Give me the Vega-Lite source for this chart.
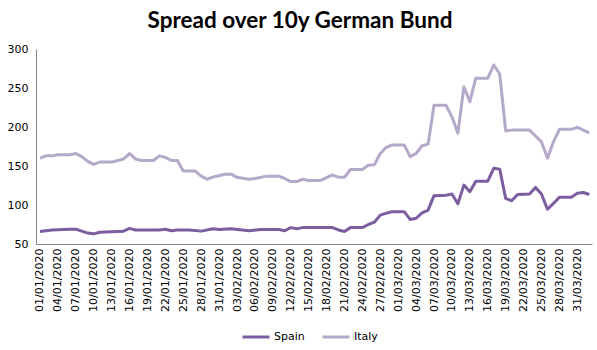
{
  "$schema": "https://vega.github.io/schema/vega-lite/v6.json",
  "width": 556,
  "height": 195,
  "autosize": {"type": "none"},
  "padding": {"left": 36, "top": 49, "right": 5, "bottom": 106},
  "background": "white",
  "title": {
    "text": "Spread over 10y German Bund",
    "font": "Lato",
    "fontWeight": "bold",
    "fontSize": 22.5,
    "color": "#000000",
    "anchor": "middle",
    "frame": "group",
    "dx": -14,
    "dy": 21,
    "baseline": "alphabetic",
    "offset": 14
  },
  "config": {
    "view": {"stroke": null},
    "axis": {
      "labelFont": "DejaVu Sans",
      "labelFontSize": 11,
      "labelColor": "#000000",
      "domainColor": "#868686",
      "domainWidth": 1,
      "ticks": false,
      "grid": false,
      "title": null
    },
    "legend": {
      "labelFont": "DejaVu Sans",
      "labelFontSize": 11,
      "labelColor": "#000000"
    }
  },
  "data": {
    "values": [
      {"date": "2020-01-01", "country": "Italy", "value": 160},
      {"date": "2020-01-02", "country": "Italy", "value": 163},
      {"date": "2020-01-03", "country": "Italy", "value": 163},
      {"date": "2020-01-04", "country": "Italy", "value": 164.5},
      {"date": "2020-01-06", "country": "Italy", "value": 164.5},
      {"date": "2020-01-07", "country": "Italy", "value": 166},
      {"date": "2020-01-08", "country": "Italy", "value": 162},
      {"date": "2020-01-09", "country": "Italy", "value": 156},
      {"date": "2020-01-10", "country": "Italy", "value": 152},
      {"date": "2020-01-11", "country": "Italy", "value": 155},
      {"date": "2020-01-13", "country": "Italy", "value": 155},
      {"date": "2020-01-15", "country": "Italy", "value": 159},
      {"date": "2020-01-16", "country": "Italy", "value": 166},
      {"date": "2020-01-17", "country": "Italy", "value": 159},
      {"date": "2020-01-18", "country": "Italy", "value": 157},
      {"date": "2020-01-20", "country": "Italy", "value": 157},
      {"date": "2020-01-21", "country": "Italy", "value": 163},
      {"date": "2020-01-22", "country": "Italy", "value": 161},
      {"date": "2020-01-23", "country": "Italy", "value": 157},
      {"date": "2020-01-24", "country": "Italy", "value": 157},
      {"date": "2020-01-25", "country": "Italy", "value": 143.5},
      {"date": "2020-01-27", "country": "Italy", "value": 143.5},
      {"date": "2020-01-28", "country": "Italy", "value": 137},
      {"date": "2020-01-29", "country": "Italy", "value": 133},
      {"date": "2020-01-30", "country": "Italy", "value": 136},
      {"date": "2020-02-01", "country": "Italy", "value": 139.5},
      {"date": "2020-02-02", "country": "Italy", "value": 139.5},
      {"date": "2020-02-03", "country": "Italy", "value": 135.5},
      {"date": "2020-02-05", "country": "Italy", "value": 133},
      {"date": "2020-02-06", "country": "Italy", "value": 134},
      {"date": "2020-02-08", "country": "Italy", "value": 137},
      {"date": "2020-02-10", "country": "Italy", "value": 137},
      {"date": "2020-02-11", "country": "Italy", "value": 134},
      {"date": "2020-02-12", "country": "Italy", "value": 130},
      {"date": "2020-02-13", "country": "Italy", "value": 130},
      {"date": "2020-02-14", "country": "Italy", "value": 133},
      {"date": "2020-02-15", "country": "Italy", "value": 131.5},
      {"date": "2020-02-17", "country": "Italy", "value": 131.5},
      {"date": "2020-02-18", "country": "Italy", "value": 135},
      {"date": "2020-02-19", "country": "Italy", "value": 138.5},
      {"date": "2020-02-20", "country": "Italy", "value": 135.5},
      {"date": "2020-02-21", "country": "Italy", "value": 135.5},
      {"date": "2020-02-22", "country": "Italy", "value": 145.5},
      {"date": "2020-02-24", "country": "Italy", "value": 145.5},
      {"date": "2020-02-25", "country": "Italy", "value": 151},
      {"date": "2020-02-26", "country": "Italy", "value": 151.5},
      {"date": "2020-02-27", "country": "Italy", "value": 166},
      {"date": "2020-02-28", "country": "Italy", "value": 174},
      {"date": "2020-02-29", "country": "Italy", "value": 177},
      {"date": "2020-03-02", "country": "Italy", "value": 177},
      {"date": "2020-03-03", "country": "Italy", "value": 162},
      {"date": "2020-03-04", "country": "Italy", "value": 166},
      {"date": "2020-03-05", "country": "Italy", "value": 176},
      {"date": "2020-03-06", "country": "Italy", "value": 178},
      {"date": "2020-03-07", "country": "Italy", "value": 228},
      {"date": "2020-03-09", "country": "Italy", "value": 228},
      {"date": "2020-03-10", "country": "Italy", "value": 213},
      {"date": "2020-03-11", "country": "Italy", "value": 192},
      {"date": "2020-03-12", "country": "Italy", "value": 251.5},
      {"date": "2020-03-13", "country": "Italy", "value": 232.5},
      {"date": "2020-03-14", "country": "Italy", "value": 262.5},
      {"date": "2020-03-16", "country": "Italy", "value": 262.5},
      {"date": "2020-03-17", "country": "Italy", "value": 279.5},
      {"date": "2020-03-18", "country": "Italy", "value": 268},
      {"date": "2020-03-19", "country": "Italy", "value": 195},
      {"date": "2020-03-20", "country": "Italy", "value": 196},
      {"date": "2020-03-23", "country": "Italy", "value": 196},
      {"date": "2020-03-24", "country": "Italy", "value": 188.5},
      {"date": "2020-03-25", "country": "Italy", "value": 181},
      {"date": "2020-03-26", "country": "Italy", "value": 160},
      {"date": "2020-03-27", "country": "Italy", "value": 181},
      {"date": "2020-03-28", "country": "Italy", "value": 197},
      {"date": "2020-03-30", "country": "Italy", "value": 197},
      {"date": "2020-03-31", "country": "Italy", "value": 199.5},
      {"date": "2020-04-01", "country": "Italy", "value": 196},
      {"date": "2020-04-02", "country": "Italy", "value": 192.5},
      {"date": "2020-01-01", "country": "Spain", "value": 66},
      {"date": "2020-01-03", "country": "Spain", "value": 68},
      {"date": "2020-01-06", "country": "Spain", "value": 69},
      {"date": "2020-01-07", "country": "Spain", "value": 69},
      {"date": "2020-01-09", "country": "Spain", "value": 64},
      {"date": "2020-01-10", "country": "Spain", "value": 63},
      {"date": "2020-01-11", "country": "Spain", "value": 65},
      {"date": "2020-01-14", "country": "Spain", "value": 66},
      {"date": "2020-01-15", "country": "Spain", "value": 66.5},
      {"date": "2020-01-16", "country": "Spain", "value": 70},
      {"date": "2020-01-17", "country": "Spain", "value": 68},
      {"date": "2020-01-21", "country": "Spain", "value": 68},
      {"date": "2020-01-22", "country": "Spain", "value": 69},
      {"date": "2020-01-23", "country": "Spain", "value": 67},
      {"date": "2020-01-24", "country": "Spain", "value": 68},
      {"date": "2020-01-26", "country": "Spain", "value": 68},
      {"date": "2020-01-28", "country": "Spain", "value": 66.5},
      {"date": "2020-01-30", "country": "Spain", "value": 69.5},
      {"date": "2020-01-31", "country": "Spain", "value": 68.5},
      {"date": "2020-02-02", "country": "Spain", "value": 69.5},
      {"date": "2020-02-05", "country": "Spain", "value": 67},
      {"date": "2020-02-07", "country": "Spain", "value": 68.5},
      {"date": "2020-02-10", "country": "Spain", "value": 68.5},
      {"date": "2020-02-11", "country": "Spain", "value": 67},
      {"date": "2020-02-12", "country": "Spain", "value": 71},
      {"date": "2020-02-13", "country": "Spain", "value": 69.5},
      {"date": "2020-02-14", "country": "Spain", "value": 71},
      {"date": "2020-02-19", "country": "Spain", "value": 71},
      {"date": "2020-02-20", "country": "Spain", "value": 68},
      {"date": "2020-02-21", "country": "Spain", "value": 66},
      {"date": "2020-02-22", "country": "Spain", "value": 71},
      {"date": "2020-02-24", "country": "Spain", "value": 71},
      {"date": "2020-02-25", "country": "Spain", "value": 75},
      {"date": "2020-02-26", "country": "Spain", "value": 78},
      {"date": "2020-02-27", "country": "Spain", "value": 87},
      {"date": "2020-02-28", "country": "Spain", "value": 89.5},
      {"date": "2020-02-29", "country": "Spain", "value": 91.5},
      {"date": "2020-03-02", "country": "Spain", "value": 91.5},
      {"date": "2020-03-03", "country": "Spain", "value": 81.5},
      {"date": "2020-03-04", "country": "Spain", "value": 83},
      {"date": "2020-03-05", "country": "Spain", "value": 90},
      {"date": "2020-03-06", "country": "Spain", "value": 93.5},
      {"date": "2020-03-07", "country": "Spain", "value": 112},
      {"date": "2020-03-09", "country": "Spain", "value": 112.5},
      {"date": "2020-03-10", "country": "Spain", "value": 114},
      {"date": "2020-03-11", "country": "Spain", "value": 101.5},
      {"date": "2020-03-12", "country": "Spain", "value": 125.5},
      {"date": "2020-03-13", "country": "Spain", "value": 117},
      {"date": "2020-03-14", "country": "Spain", "value": 130.5},
      {"date": "2020-03-16", "country": "Spain", "value": 130.5},
      {"date": "2020-03-17", "country": "Spain", "value": 147},
      {"date": "2020-03-18", "country": "Spain", "value": 146},
      {"date": "2020-03-19", "country": "Spain", "value": 108.5},
      {"date": "2020-03-20", "country": "Spain", "value": 105.5},
      {"date": "2020-03-21", "country": "Spain", "value": 113.5},
      {"date": "2020-03-23", "country": "Spain", "value": 114},
      {"date": "2020-03-24", "country": "Spain", "value": 122.5},
      {"date": "2020-03-25", "country": "Spain", "value": 114},
      {"date": "2020-03-26", "country": "Spain", "value": 94.5},
      {"date": "2020-03-27", "country": "Spain", "value": 102},
      {"date": "2020-03-28", "country": "Spain", "value": 110},
      {"date": "2020-03-30", "country": "Spain", "value": 110},
      {"date": "2020-03-31", "country": "Spain", "value": 115},
      {"date": "2020-04-01", "country": "Spain", "value": 116},
      {"date": "2020-04-02", "country": "Spain", "value": 113.5}
    ]
  },
  "mark": {"type": "line", "strokeWidth": 3, "strokeJoin": "round", "strokeCap": "butt"},
  "encoding": {
    "x": {
      "field": "date",
      "type": "temporal",
      "scale": {
        "type": "utc",
        "domain": [
          {"year": 2019, "month": 12, "date": 31, "hours": 8, "utc": true},
          {"year": 2020, "month": 4, "date": 2, "hours": 11, "utc": true}
        ]
      },
      "axis": {
        "labelExpr": "utcFormat(datum.value, '%d/%m/%Y')",
        "labelAngle": 270,
        "labelPadding": 4,
        "labelOverlap": false,
        "values": [
          {"year": 2020, "month": 1, "date": 1, "utc": true},
          {"year": 2020, "month": 1, "date": 4, "utc": true},
          {"year": 2020, "month": 1, "date": 7, "utc": true},
          {"year": 2020, "month": 1, "date": 10, "utc": true},
          {"year": 2020, "month": 1, "date": 13, "utc": true},
          {"year": 2020, "month": 1, "date": 16, "utc": true},
          {"year": 2020, "month": 1, "date": 19, "utc": true},
          {"year": 2020, "month": 1, "date": 22, "utc": true},
          {"year": 2020, "month": 1, "date": 25, "utc": true},
          {"year": 2020, "month": 1, "date": 28, "utc": true},
          {"year": 2020, "month": 1, "date": 31, "utc": true},
          {"year": 2020, "month": 2, "date": 3, "utc": true},
          {"year": 2020, "month": 2, "date": 6, "utc": true},
          {"year": 2020, "month": 2, "date": 9, "utc": true},
          {"year": 2020, "month": 2, "date": 12, "utc": true},
          {"year": 2020, "month": 2, "date": 15, "utc": true},
          {"year": 2020, "month": 2, "date": 18, "utc": true},
          {"year": 2020, "month": 2, "date": 21, "utc": true},
          {"year": 2020, "month": 2, "date": 24, "utc": true},
          {"year": 2020, "month": 2, "date": 27, "utc": true},
          {"year": 2020, "month": 3, "date": 1, "utc": true},
          {"year": 2020, "month": 3, "date": 4, "utc": true},
          {"year": 2020, "month": 3, "date": 7, "utc": true},
          {"year": 2020, "month": 3, "date": 10, "utc": true},
          {"year": 2020, "month": 3, "date": 13, "utc": true},
          {"year": 2020, "month": 3, "date": 16, "utc": true},
          {"year": 2020, "month": 3, "date": 19, "utc": true},
          {"year": 2020, "month": 3, "date": 22, "utc": true},
          {"year": 2020, "month": 3, "date": 25, "utc": true},
          {"year": 2020, "month": 3, "date": 28, "utc": true},
          {"year": 2020, "month": 3, "date": 31, "utc": true}
        ]
      }
    },
    "y": {
      "field": "value",
      "type": "quantitative",
      "scale": {"domain": [50, 300], "nice": false, "zero": false},
      "axis": {"values": [50, 100, 150, 200, 250, 300], "labelPadding": 8}
    },
    "color": {
      "field": "country",
      "type": "nominal",
      "scale": {"domain": ["Spain", "Italy"], "range": ["#7B5DA0", "#B4A9C9"]},
      "legend": {
        "title": null,
        "orient": "none",
        "direction": "horizontal",
        "legendX": 205,
        "legendY": 273,
        "padding": 0,
        "symbolType": "stroke",
        "symbolSize": 729,
        "symbolStrokeWidth": 3,
        "labelOffset": 3,
        "columnPadding": 11
      }
    }
  }
}
